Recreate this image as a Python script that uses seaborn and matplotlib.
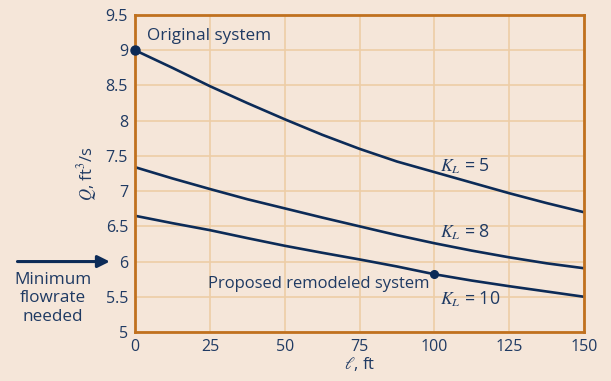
import pandas as pd
import seaborn as sns
import matplotlib.pyplot as plt

# values
length_ft = [0, 12.5, 25, 37.5, 50, 62.5, 75, 87.5, 100, 112.5, 125, 137.5, 150]
q_kl5 = [9.00, 8.75, 8.49, 8.25, 8.02, 7.80, 7.60, 7.42, 7.27, 7.12, 6.97, 6.83, 6.70]
q_kl8 = [7.34, 7.18, 7.03, 6.885, 6.755, 6.625, 6.50, 6.375, 6.26, 6.155, 6.06, 5.975, 5.905]
q_kl10 = [6.65, 6.545, 6.446, 6.333, 6.224, 6.125, 6.03, 5.93, 5.82, 5.73, 5.65, 5.575, 5.50]
curve_labels = ['5', '8', '10']
label_y = [7.35, 6.42, 5.47]
x_ticks = [0, 25, 50, 75, 100, 125, 150]
y_ticks = [5, 5.5, 6, 6.5, 7, 7.5, 8, 8.5, 9, 9.5]
original_pt = (0, 9.0)
remodeled_pt = (100, 5.82)
min_flow = 6.0

bg = '#f5e6d9'
navy = '#0c2b57'
text_c = '#1f3a63'
orange = '#c0711f'
grid_c = '#edcda6'

df = pd.DataFrame({
    'l': length_ft * 3,
    'Q': q_kl5 + q_kl8 + q_kl10,
    'KL': sum([[k] * len(length_ft) for k in curve_labels], []),
})

sns.set_theme(style='white')
plt.rcParams['font.family'] = ['Open Sans', 'DejaVu Sans']
plt.rcParams['mathtext.fontset'] = 'stix'

fig = plt.figure(figsize=(6.11, 3.81), dpi=100, facecolor=bg)
ax = fig.add_axes([0.221, 0.1286, 0.735, 0.832])
ax.set_facecolor(bg)

sns.lineplot(data=df, x='l', y='Q', hue='KL', palette=[navy] * 3,
             linewidth=1.9, legend=False, ax=ax)

ax.plot(*original_pt, 'o', color=navy, ms=6.5, clip_on=False, zorder=5)
ax.plot(*remodeled_pt, 'o', color=navy, ms=5.5, zorder=5)

ax.set_xlim(0, 150)
ax.set_ylim(5, 9.5)
ax.set_xticks(x_ticks)
ax.set_yticks(y_ticks)
ax.set_yticklabels([f'{v:g}' for v in y_ticks])
ax.grid(True, color=grid_c, linewidth=1.2)
ax.tick_params(length=0, labelsize=11.5, labelcolor=text_c)
ax.tick_params(axis='x', pad=5)
ax.tick_params(axis='y', pad=5)
for s in ax.spines.values():
    s.set_color(orange)
    s.set_linewidth(2)

ax.set_xlabel(r'$\ell$, ft', fontsize=12, color=text_c, labelpad=0)
ax.set_ylabel(r'$Q$, ft$^3$/s', fontsize=12, color=text_c, labelpad=5)

for lab, y in zip(curve_labels, label_y):
    ax.text(102, y, r'$K_L$ = ' + lab, fontsize=12.8, color=text_c, va='center')

ax.text(4, 9.2, 'Original system', fontsize=12.3, color=text_c, va='center')
ax.text(98.5, 5.68, 'Proposed remodeled system', fontsize=12, color=text_c,
        va='center', ha='right')

# arrow for minimum flowrate, outside the axes
ax.annotate('', xy=(-0.05, min_flow), xycoords=('axes fraction', 'data'),
            xytext=(-0.268, min_flow), textcoords=('axes fraction', 'data'),
            arrowprops=dict(arrowstyle='-|>', color=navy, lw=2.2,
                            mutation_scale=18), annotation_clip=False)
ax.text(-0.183, 5.48, 'Minimum\nflowrate\nneeded', transform=ax.get_yaxis_transform(),
        fontsize=12.3, color=text_c, ha='center', va='center', linespacing=1.2)

fig.savefig('out.png', dpi=100, facecolor=bg)
